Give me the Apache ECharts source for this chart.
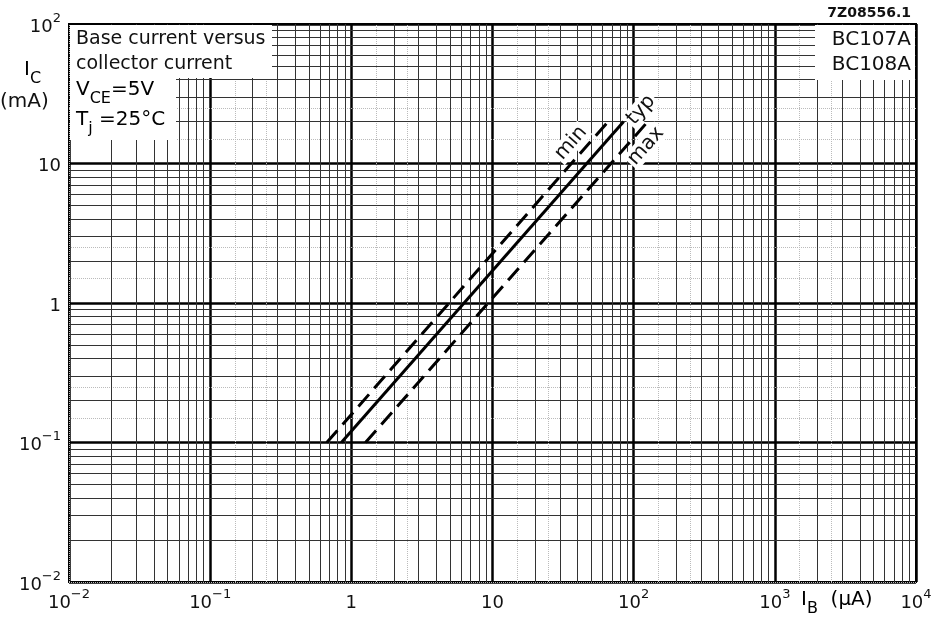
<!DOCTYPE html>
<html>
<head>
<meta charset="utf-8">
<script src="https://cdn.jsdelivr.net/npm/echarts@6/dist/echarts.min.js"></script>
<style>
  html, body { margin: 0; padding: 0; background: #fff; }
  #chart { width: 948px; height: 626px; }
</style>
</head>
<body>
<div id="chart"></div>
<script>
// collector current I_C (mA) at both ends of every curve
const icEnds = [0.1, 20];
// base current I_B (uA) read at those ends
const ibMin = [0.67, 66];
const ibTyp = [0.85, 85];
const ibMax = [1.26, 126];

// log axis ranges (exponents) and grid subdivisions
const xExps = [-2, -1, 0, 1, 2, 3, 4];
const yExps = [-2, -1, 0, 1, 2];
const gridSteps = [2, 3, 4, 5, 6, 7, 8, 9];
const faintSteps = [1.5, 2.5];

const FONT = 'DejaVu Sans';
const INK = '#111';

function supLabel(e) {
  if (e === 0) return '{b|1}';
  if (e === 1) return '{b|10}';
  return '{b|10}{s|' + (e < 0 ? '\u2212' + (-e) : e) + '}';
}

const tickRich = {
  b: { fontFamily: FONT, fontSize: 18, color: INK, lineHeight: 24, verticalAlign: 'bottom' },
  s: { fontFamily: FONT, fontSize: 13, color: INK, lineHeight: 13, verticalAlign: 'top' }
};

function subLines(exps, steps, key) {
  const out = [];
  exps.slice(0, -1).forEach(e => {
    steps.forEach(s => out.push({ [key]: +(Math.pow(10, e) * s).toPrecision(3) }));
  });
  return out;
}

function curve(name, xs, dashed) {
  return {
    name: name,
    type: 'line',
    data: xs.map((x, i) => [x, icEnds[i]]),
    symbol: 'none',
    silent: true,
    z: 5,
    lineStyle: { color: '#000', width: 3, type: dashed ? [16, 8] : 'solid', cap: 'butt' }
  };
}

const textRich = {
  n: { fontFamily: FONT, fontSize: 20, color: INK, lineHeight: 27, verticalAlign: 'top' },
  sub: { fontFamily: FONT, fontSize: 16, color: INK, lineHeight: 16, verticalAlign: 'bottom' }
};

const chart = echarts.init(document.getElementById('chart'));

chart.setOption({
  animation: false,
  backgroundColor: '#fff',
  grid: {
    left: 69, right: 32, top: 24, bottom: 44,
    show: true, borderColor: '#000', borderWidth: 2,
    containLabel: false, outerBoundsMode: 'none'
  },
  xAxis: {
    type: 'log', logBase: 10,
    min: Math.pow(10, xExps[0]), max: Math.pow(10, xExps[xExps.length - 1]),
    splitNumber: 6,
    axisLine: { show: false },
    axisTick: { show: false },
    axisLabel: {
      margin: 6,
      formatter: v => supLabel(Math.round(Math.log10(v))),
      rich: tickRich,
      showMinLabel: true, showMaxLabel: true
    },
    splitLine: { show: true, lineStyle: { color: '#000', width: 2.5 } }
  },
  yAxis: {
    type: 'log', logBase: 10,
    min: Math.pow(10, yExps[0]), max: Math.pow(10, yExps[yExps.length - 1]),
    splitNumber: 4,
    axisLine: { show: false },
    axisTick: { show: false },
    axisLabel: {
      margin: 8,
      formatter: v => supLabel(Math.round(Math.log10(v))),
      rich: tickRich,
      showMinLabel: true, showMaxLabel: true
    },
    splitLine: { show: true, lineStyle: { color: '#000', width: 2.5 } }
  },
  series: [
    {
      type: 'line', data: [], silent: true, z: 1,
      markLine: {
        symbol: 'none', silent: true, animation: false,
        label: { show: false },
        lineStyle: { color: '#bbb', width: 1, type: 'dotted' },
        data: subLines(xExps, faintSteps, 'xAxis').concat(subLines(yExps, faintSteps, 'yAxis'))
      }
    },
    {
      type: 'line', data: [], silent: true, z: 2,
      markLine: {
        symbol: 'none', silent: true, animation: false,
        label: { show: false },
        lineStyle: { color: '#333', width: 1, type: 'solid' },
        data: subLines(xExps, gridSteps, 'xAxis').concat(subLines(yExps, gridSteps, 'yAxis'))
      }
    },
    curve('min', ibMin, true),
    curve('typ', ibTyp, false),
    curve('max', ibMax, true)
  ],
  graphic: [
    // white panels behind the notes
    { type: 'rect', z: 50, shape: { x: 70, y: 25, width: 202, height: 53 }, style: { fill: '#fff' } },
    { type: 'rect', z: 50, shape: { x: 70, y: 25, width: 106, height: 115 }, style: { fill: '#fff' } },
    { type: 'rect', z: 50, shape: { x: 815, y: 25, width: 100, height: 55 }, style: { fill: '#fff' } },
    {
      type: 'text', z: 51, x: 76, y: 27,
      style: { text: 'Base current versus\ncollector current', font: '19px ' + FONT, fill: INK, lineHeight: 25 }
    },
    {
      type: 'text', z: 51, x: 76, y: 80,
      style: { text: '{n|V}{sub|CE}{n|=5V}', rich: textRich }
    },
    {
      type: 'text', z: 51, x: 76, y: 110,
      style: { text: '{n|T}{sub|j}{n| =25\u00b0C}', rich: textRich }
    },
    {
      type: 'text', z: 51, x: 911, y: 27,
      style: { text: 'BC107A\nBC108A', font: '20px ' + FONT, fill: INK, lineHeight: 25, align: 'right' }
    },
    {
      type: 'text', z: 51, x: 911, y: 6,
      style: { text: '7Z08556.1', font: 'bold 14px ' + FONT, fill: INK, align: 'right' }
    },
    // y axis name
    {
      type: 'text', z: 51, x: 24, y: 60,
      style: { text: '{n|I}{sub|C}', rich: textRich }
    },
    {
      type: 'text', z: 51, x: 0, y: 92,
      style: { text: '(mA)', font: '20px ' + FONT, fill: INK }
    },
    // x axis name
    {
      type: 'text', z: 51, x: 801, y: 590,
      style: { text: '{n|I}{sub|B}{n|  (\u03bcA)}', rich: textRich }
    },
    // curve labels
    {
      type: 'text', z: 51, x: 571, y: 143, rotation: 0.85,
      style: { text: 'min', font: '20px ' + FONT, fill: INK, align: 'center', verticalAlign: 'middle', backgroundColor: '#fff', padding: [0, 2] }
    },
    {
      type: 'text', z: 51, x: 641, y: 110, rotation: 0.85,
      style: { text: 'typ', font: '20px ' + FONT, fill: INK, align: 'center', verticalAlign: 'middle', backgroundColor: '#fff', padding: [0, 2] }
    },
    {
      type: 'text', z: 51, x: 646, y: 146, rotation: 0.85,
      style: { text: 'max', font: '20px ' + FONT, fill: INK, align: 'center', verticalAlign: 'middle', backgroundColor: '#fff', padding: [0, 2] }
    }
  ]
});
</script>
</body>
</html>
